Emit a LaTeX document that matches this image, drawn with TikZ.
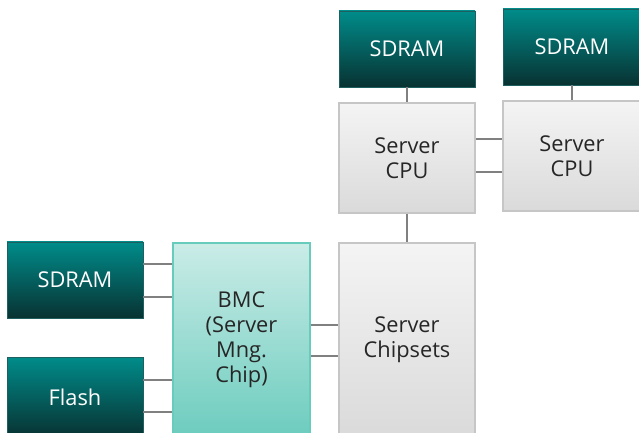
\documentclass[tikz,border=0pt]{standalone}
\usepackage{fontspec}
\setmainfont{Open Sans}
\definecolor{tealtop}{RGB}{0,140,138}
\definecolor{tealbot}{RGB}{8,50,50}
\definecolor{tealedge}{RGB}{30,95,95}
\definecolor{greytop}{RGB}{244,244,244}
\definecolor{greybot}{RGB}{218,218,218}
\definecolor{greyedge}{RGB}{198,198,198}
\definecolor{mintop}{RGB}{202,236,231}
\definecolor{minbot}{RGB}{108,204,190}
\definecolor{minedge}{RGB}{104,204,188}
\definecolor{linkgrey}{RGB}{128,128,128}
\usetikzlibrary{positioning,calc}

\begin{document}
\begin{tikzpicture}[
    memblock/.style={draw=tealedge,line width=0.6pt,top color=tealtop,bottom color=tealbot,
      text=white,minimum width=3.4cm,minimum height=1.9cm,inner sep=0pt},
    cpublock/.style={draw=greyedge,line width=1.2pt,top color=greytop,bottom color=greybot,
      text=black!85,align=center,minimum width=3.4cm,inner sep=0pt},
    bmcblock/.style={draw=minedge,line width=1.2pt,top color=mintop,bottom color=minbot,
      text=black!85,align=center,minimum width=3.425cm,inner sep=0pt},
    link/.style={draw=linkgrey,line width=1.3pt},
    font=\fontsize{15.5}{17.8}\selectfont]
  \useasboundingbox (0,0) rectangle (15.975,10.8);
  \clip (0,0) rectangle (15.975,10.8);
  % memory and cpu row
  \node[memblock] (sdramA) at (10.175,9.575) {SDRAM};
  \node[memblock,minimum width=3.45cm] (sdramB) at (14.3,9.625) {SDRAM};
  \node[cpublock,minimum height=2.75cm] (cpuA) at (10.175,6.85) {Server\\CPU};
  \node[cpublock,minimum width=3.45cm,minimum height=2.75cm] (cpuB) at (14.3,6.9) {Server\\CPU};
  % lower row
  \node[cpublock,minimum height=4.85cm] (chip) at (10.175,2.3) {Server\\Chipsets};
  \node[bmcblock,minimum height=4.85cm] (bmc) at (6.0375,2.3) {BMC\\(Server\\Mng.\\Chip)};
  \node[memblock] (sdramC) at (1.875,3.8) {SDRAM};
  \node[memblock,minimum height=2cm] (flash) at (1.875,0.875) {Flash};
  % connectors
  \draw[link] (sdramA.south) -- (cpuA.north);
  \draw[link] (sdramB.south) -- (sdramB.south |- cpuB.north);
  \draw[link] (cpuA.south) -- (chip.north);
  \foreach \dy in {0.475,-0.35}
    \draw[link] ([yshift=\dy cm]cpuA.east) -- ([yshift=\dy cm]cpuA.east -| cpuB.west);
  \foreach \dy in {0.4,-0.425}
    \draw[link] ([yshift=\dy cm]sdramC.east) -- ([yshift=\dy cm]sdramC.east -| bmc.west);
  \foreach \dy in {0.425,-0.375}
    \draw[link] ([yshift=\dy cm]flash.east) -- ([yshift=\dy cm]flash.east -| bmc.west);
  \foreach \dy in {0.375,-0.4}
    \draw[link] ([yshift=\dy cm]bmc.east) -- ([yshift=\dy cm]bmc.east -| chip.west);
\end{tikzpicture}
\end{document}
